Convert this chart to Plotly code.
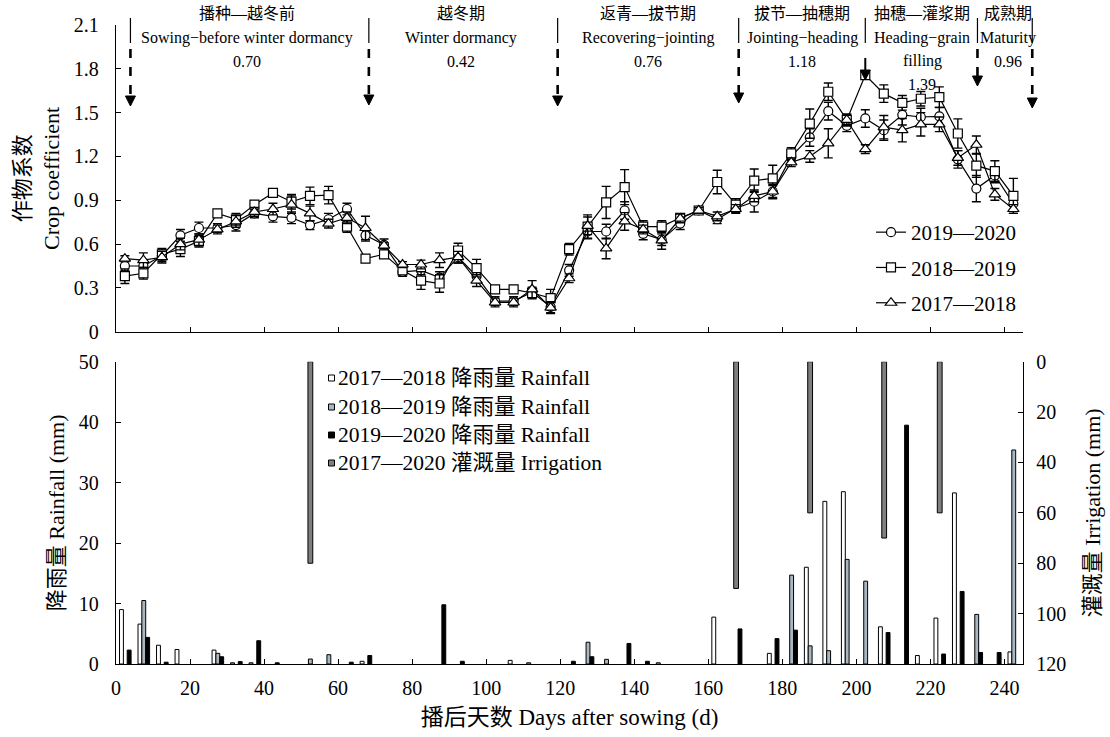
import plotly.graph_objects as go

FONT = "Liberation Serif, 'Noto Sans CJK SC', serif"

# ---------------- crop coefficient, 5-day means ----------------
days = [2.4, 7.4, 12.4, 17.4, 22.4, 27.4, 32.4, 37.4, 42.4, 47.4,
        52.4, 57.4, 62.4, 67.4, 72.4, 77.4, 82.4, 87.4, 92.4, 97.4,
        102.4, 107.4, 112.4, 117.4, 122.4, 127.4, 132.4, 137.4, 142.4, 147.4,
        152.4, 157.4, 162.4, 167.4, 172.4, 177.4, 182.4, 187.4, 192.4, 197.4,
        202.4, 207.4, 212.4, 217.4, 222.4, 227.4, 232.4, 237.4, 242.4]

kc_1920 = [0.45, 0.45, 0.52, 0.66, 0.71, 0.71, 0.73, 0.81, 0.79, 0.78,
           0.73, 0.77, 0.84, 0.66, 0.595, 0.41, 0.42, 0.37, 0.51, 0.38,
           0.21, 0.21, 0.27, 0.17, 0.42, 0.686, 0.686, 0.83, 0.67, 0.63,
           0.74, 0.83, 0.77, 0.845, 0.89, 0.96, 1.20, 1.33, 1.51, 1.41,
           1.46, 1.38, 1.485, 1.47, 1.475, 1.18, 0.98, 1.07, 0.876]
err_1920 = [0.03, 0.03, 0.04, 0.04, 0.04, 0.03, 0.04, 0.03, 0.04, 0.04,
            0.03, 0.04, 0.04, 0.04, 0.04, 0.03, 0.03, 0.04, 0.04, 0.04,
            0.03, 0.03, 0.03, 0.04, 0.04, 0.05, 0.05, 0.06, 0.04, 0.04,
            0.04, 0.02, 0.03, 0.03, 0.07, 0.05, 0.03, 0.06, 0.06, 0.04,
            0.06, 0.07, 0.07, 0.06, 0.06, 0.06, 0.09, 0.05, 0.04]

kc_1819 = [0.38, 0.40, 0.53, 0.565, 0.62, 0.81, 0.77, 0.87, 0.95, 0.89,
           0.93, 0.935, 0.72, 0.50, 0.53, 0.42, 0.35, 0.33, 0.556, 0.435,
           0.29, 0.29, 0.265, 0.23, 0.565, 0.72, 0.885, 0.99, 0.72, 0.72,
           0.78, 0.83, 1.025, 0.87, 1.034, 1.05, 1.22, 1.425, 1.643, 1.45,
           1.757, 1.63, 1.567, 1.595, 1.606, 1.357, 1.137, 1.10, 0.93]
err_1819 = [0.05, 0.04, 0.04, 0.05, 0.04, 0.02, 0.04, 0.02, 0.02, 0.05,
            0.06, 0.06, 0.04, 0.02, 0.02, 0.02, 0.06, 0.06, 0.05, 0.06,
            0.02, 0.02, 0.04, 0.06, 0.04, 0.08, 0.11, 0.12, 0.04, 0.04,
            0.02, 0.02, 0.08, 0.04, 0.08, 0.09, 0.04, 0.10, 0.06, 0.04,
            0.02, 0.06, 0.05, 0.05, 0.07, 0.10, 0.08, 0.07, 0.12]

kc_1718 = [0.50, 0.49, 0.51, 0.60, 0.63, 0.70, 0.755, 0.82, 0.84, 0.87,
           0.81, 0.74, 0.78, 0.71, 0.59, 0.46, 0.46, 0.49, 0.51, 0.35,
           0.20, 0.20, 0.29, 0.165, 0.366, 0.725, 0.57, 0.755, 0.70, 0.625,
           0.775, 0.83, 0.79, 0.84, 0.93, 0.96, 1.16, 1.20, 1.29, 1.45,
           1.25, 1.40, 1.38, 1.42, 1.42, 1.19, 1.28, 0.94, 0.84]
err_1718 = [0.02, 0.05, 0.04, 0.04, 0.04, 0.03, 0.04, 0.03, 0.04, 0.06,
            0.05, 0.03, 0.04, 0.08, 0.02, 0.02, 0.03, 0.05, 0.04, 0.04,
            0.03, 0.03, 0.06, 0.04, 0.03, 0.06, 0.07, 0.06, 0.03, 0.06,
            0.03, 0.02, 0.03, 0.03, 0.04, 0.04, 0.03, 0.04, 0.10, 0.04,
            0.03, 0.08, 0.08, 0.08, 0.05, 0.05, 0.06, 0.04, 0.03]

kc_tick_vals = [0, 0.3, 0.6, 0.9, 1.2, 1.5, 1.8, 2.1]
kc_tick_text = ["0", "0.3", "0.6", "0.9", "1.2", "1.5", "1.8", "2.1"]

# ---------------- rainfall and irrigation (mm) by 5-day period ----------------
rain_1718_day = [2.5, 7.5, 12.5, 17.5, 27.5, 32.5, 37.5, 67.5, 107.5, 112.5,
                 147.5, 162.5, 177.5, 187.5, 192.5, 197.5, 207.5, 217.5, 222.5,
                 227.5, 242.5]
rain_1718 = [9.0, 6.6, 3.1, 2.4, 2.3, 0.2, 0.2, 0.45, 0.6, 0.2,
             0.2, 7.75, 1.76, 16.0, 26.9, 28.5, 6.15, 1.4, 7.6,
             28.3, 2.0]

rain_1819_day = [7.5, 27.5, 52.5, 57.5, 127.5, 132.5, 182.5, 187.5, 192.5,
                 197.5, 202.5, 232.5, 242.5]
rain_1819 = [10.5, 1.76, 0.82, 1.54, 3.6, 0.77, 14.7, 3.0, 2.2,
             17.3, 13.7, 8.2, 35.4]

rain_1920_day = [2.5, 7.5, 12.5, 27.5, 32.5, 37.5, 42.5, 62.5, 67.5, 87.5,
                 92.5, 122.5, 127.5, 137.5, 142.5, 167.5, 177.5, 182.5, 207.5,
                 212.5, 222.5, 227.5, 232.5, 237.5]
rain_1920 = [2.3, 4.4, 0.3, 1.2, 0.4, 3.85, 0.2, 0.3, 1.4, 9.8,
             0.45, 0.45, 1.2, 3.4, 0.45, 5.8, 4.2, 5.6, 5.2,
             39.5, 1.65, 12.0, 1.9, 1.9]

irr_day = [52.5, 167.5, 187.5, 207.5, 222.5]
irr = [80, 90, 60, 70, 60]

# ---------------- growth stages ----------------
stage_text = [
    (35.5, ["播种—越冬前", "Sowing−before winter dormancy", "0.70"]),
    (93.3, ["越冬期", "Winter dormancy", "0.42"]),
    (143.8, ["返青—拔节期", "Recovering−jointing", "0.76"]),
    (185.4, ["拔节—抽穗期", "Jointing−heading", "1.18"]),
    (217.8, ["抽穗—灌浆期", "Heading−grain", "filling", "1.39"]),
    (241.0, ["成熟期", "Maturity", "0.96"]),
]
stage_edge_day = [3.9, 68.3, 119.3, 168.2, 202.4, 232.7, 247.5]
stage_edge_tip = [106, 105, 106, 103, 80, 86, 108]      # px from top
stage_edge_dashed = [True, True, True, True, False, True, True]

# ---------------- geometry ----------------
W, H = 1110, 737
M_L, M_R, M_T, M_B = 116, 87, 25, 73
X_MAX = 245
PLOT_H = H - M_T - M_B


def py(px):
    """pixel row -> paper y"""
    return (H - M_B - px) / PLOT_H


def pxx(px):
    """pixel column -> paper x"""
    return (px - M_L) / (W - M_L - M_R)


TOP_DOM = [py(331.7), 1.0]
BOT_DOM = [0.0, py(361.7)]

fig = go.Figure()

marker_common = dict(color="white", line=dict(color="black", width=1.2))
err_common = dict(type="data", color="black", thickness=1.4, width=4.5)

series = [
    ("2019—2020", kc_1920, err_1920, "circle", 9),
    ("2018—2019", kc_1819, err_1819, "square", 9),
    ("2017—2018", kc_1718, err_1718, "triangle-up", 10),
]
for name, vals, errs, sym, size in series:
    fig.add_trace(go.Scatter(
        x=days, y=vals, name=name, mode="lines+markers",
        line=dict(color="black", width=1.2),
        marker=dict(symbol=sym, size=size, **marker_common),
        error_y=dict(array=errs, **err_common),
        xaxis="x", yaxis="y", legend="legend", legendgroup=name,
    ))

bar_w = 1.05
bar_specs = [
    ("2017—2018 降雨量 Rainfall", rain_1718_day, rain_1718, "white", -1.55),
    ("2018—2019 降雨量 Rainfall", rain_1819_day, rain_1819, "#a9b7c3", -0.525),
    ("2019—2020 降雨量 Rainfall", rain_1920_day, rain_1920, "black", 0.525),
]
for name, dx, vals, col, off in bar_specs:
    fig.add_trace(go.Bar(
        x=dx, y=vals, name=name, width=bar_w, offset=off,
        marker=dict(color=col, line=dict(color="black", width=1)),
        xaxis="x2", yaxis="y2", showlegend=False,
    ))

fig.add_trace(go.Bar(
    x=irr_day, y=irr, name="2017—2020 灌溉量 Irrigation", width=1.3, offset=-0.65,
    marker=dict(color="#7f7f7f", line=dict(color="black", width=1)),
    xaxis="x2", yaxis="y3", showlegend=False,
))

axis_common = dict(
    showline=True, linecolor="black", linewidth=1.4,
    ticks="inside", ticklen=5, tickwidth=1.3, tickcolor="black",
    showgrid=False, zeroline=False, automargin=False,
    tickfont=dict(family=FONT, size=20, color="black"),
)

fig.update_layout(
    width=W, height=H,
    margin=dict(l=M_L, r=M_R, t=M_T, b=M_B),
    paper_bgcolor="white", plot_bgcolor="white",
    font=dict(family=FONT, color="black"),
    barmode="overlay",
    xaxis=dict(domain=[0, 1], anchor="y", range=[0, X_MAX], dtick=20,
               showticklabels=False, **axis_common),
    yaxis=dict(domain=TOP_DOM, anchor="x", range=[0, 2.1],
               tickvals=kc_tick_vals, ticktext=kc_tick_text,
               ticklabelstandoff=12,
               title=dict(text="作物系数<br>Crop coefficient",
                          font=dict(family=FONT, size=22), standoff=8),
               **axis_common),
    xaxis2=dict(domain=[0, 1], anchor="y2", range=[0, X_MAX], dtick=20,
                ticklabelstandoff=6,
                title=dict(text="播后天数 Days after sowing (d)",
                           font=dict(family=FONT, size=23), standoff=10),
                **axis_common),
    yaxis2=dict(domain=BOT_DOM, anchor="x2", range=[0, 50], dtick=10,
                ticklabelstandoff=12,
                title=dict(text="降雨量 Rainfall (mm)",
                           font=dict(family=FONT, size=22), standoff=8),
                **axis_common),
    yaxis3=dict(overlaying="y2", anchor="x2", side="right", range=[120, 0],
                dtick=20, ticklabelstandoff=8,
                title=dict(text="灌溉量 Irrigation (mm)",
                           font=dict(family=FONT, size=22), standoff=19),
                **axis_common),
    legend=dict(x=pxx(871), y=py(212), xanchor="left", yanchor="top",
                font=dict(family=FONT, size=21), bgcolor="rgba(0,0,0,0)",
                traceorder="grouped", tracegroupgap=5,
                itemclick=False),
    showlegend=True,
)

# growth-stage headings
row_px = [14, 38, 61, 84]
annotations = []
for day, lines in stage_text:
    for r, txt in enumerate(lines):
        annotations.append(dict(
            x=day / X_MAX, y=py(row_px[r]), xref="paper", yref="paper",
            text=txt, showarrow=False, xanchor="center", yanchor="middle",
            font=dict(family=FONT, size=16, color="black"),
        ))

# stage boundaries: separator + (dashed) arrow
shapes = []
for day, tip, dashed in zip(stage_edge_day, stage_edge_tip, stage_edge_dashed):
    xp = day / X_MAX
    shapes.append(dict(type="line", xref="paper", yref="paper",
                       x0=xp, x1=xp, y0=py(18), y1=py(43),
                       line=dict(color="black", width=1.2)))
    top = 49 if dashed else tip - 22
    shapes.append(dict(type="line", xref="paper", yref="paper",
                       x0=xp, x1=xp, y0=py(top), y1=py(tip - 8),
                       line=dict(color="black", width=2.6 if dashed else 2,
                                 dash="dash" if dashed else "solid")))
    shapes.append(dict(type="path", xref="paper", yref="paper",
                       xsizemode="pixel", ysizemode="pixel",
                       xanchor=xp, yanchor=py(tip),
                       path="M-5,10 L5,10 L0,0 Z",
                       fillcolor="black", line=dict(color="black", width=1)))

# rainfall / irrigation key
key_rows = [
    ("2017—2018 降雨量 Rainfall", "white", 378),
    ("2018—2019 降雨量 Rainfall", "#a9b7c3", 407),
    ("2019—2020 降雨量 Rainfall", "black", 435),
    ("2017—2020 灌溉量 Irrigation", "#7f7f7f", 463),
]
for txt, col, ypx in key_rows:
    shapes.append(dict(type="rect", xref="paper", yref="paper",
                       xsizemode="pixel", ysizemode="pixel",
                       xanchor=pxx(331.5), yanchor=py(ypx),
                       x0=-3, x1=3, y0=-3, y1=3,
                       fillcolor=col, line=dict(color="black", width=1)))
    annotations.append(dict(
        x=pxx(336), y=py(ypx), xref="paper", yref="paper", text=txt,
        showarrow=False, xanchor="left", yanchor="middle",
        font=dict(family=FONT, size=21.5, color="black"),
    ))

fig.update_layout(annotations=annotations, shapes=shapes)

fig.write_html("out.html")
